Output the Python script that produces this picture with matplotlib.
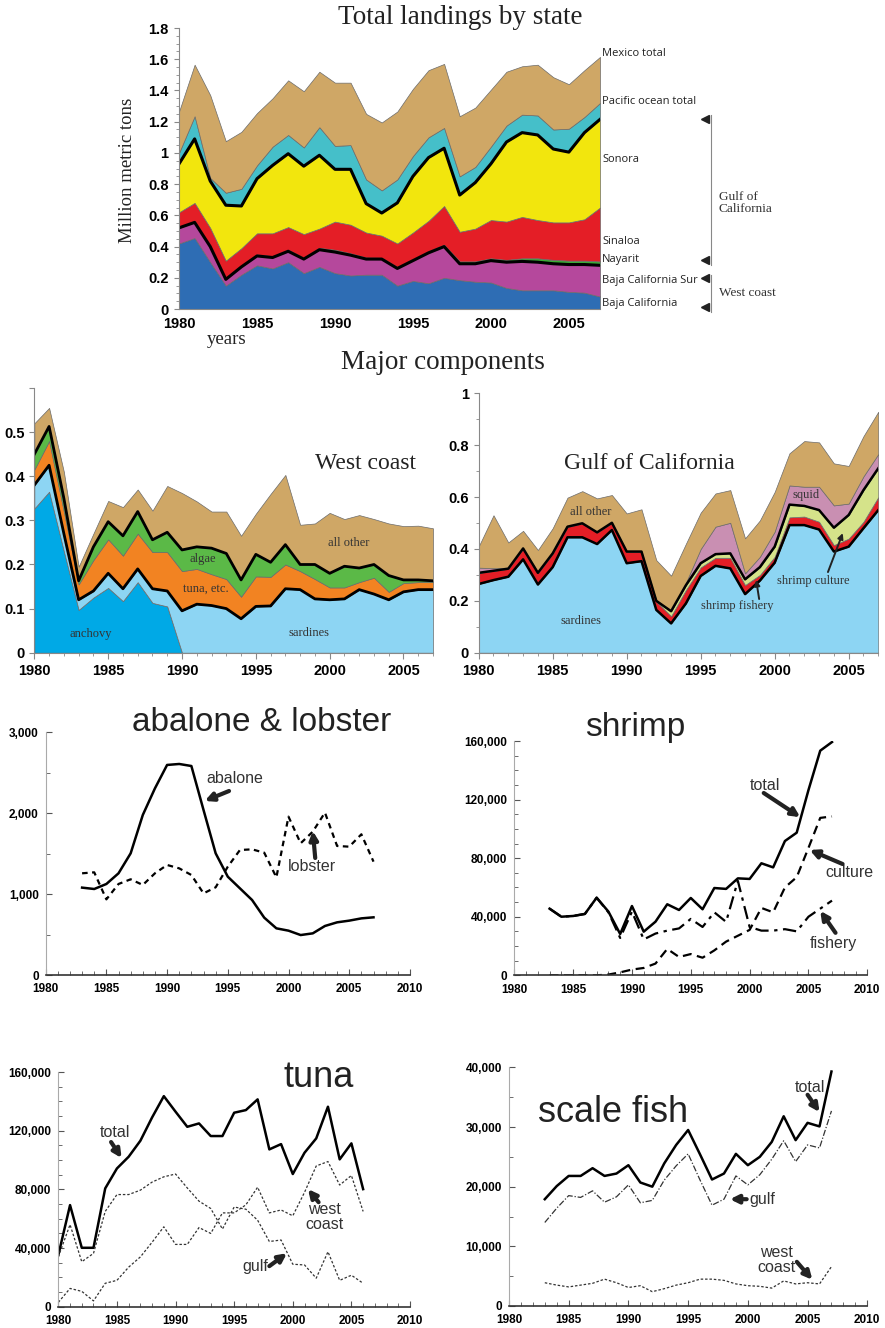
import numpy as np
import matplotlib
matplotlib.use("Agg")
import matplotlib.pyplot as plt
from matplotlib.ticker import MultipleLocator, FuncFormatter

# ---------------- data ----------------
years = np.arange(1980, 2008)

# Total landings by state: top edge of each stacked band, million t
baja_cal_top = [0.42, 0.455, 0.30, 0.15, 0.22, 0.28, 0.26, 0.30, 0.23, 0.27, 0.23, 0.215, 0.22, 0.22,
                0.15, 0.18, 0.165, 0.20, 0.185, 0.175, 0.17, 0.135, 0.12, 0.12, 0.12, 0.11, 0.105, 0.08]
west_coast_top = [0.52, 0.555, 0.40, 0.19, 0.27, 0.34, 0.33, 0.37, 0.32, 0.38, 0.365, 0.345, 0.32, 0.32,
                  0.26, 0.31, 0.36, 0.40, 0.29, 0.29, 0.31, 0.30, 0.305, 0.30, 0.29, 0.285, 0.285, 0.28]
nayarit_top = [0.528, 0.563, 0.406, 0.194, 0.276, 0.35, 0.338, 0.38, 0.328, 0.392, 0.38, 0.357, 0.33, 0.328,
               0.27, 0.32, 0.37, 0.412, 0.305, 0.305, 0.325, 0.315, 0.325, 0.325, 0.315, 0.31, 0.31, 0.305]
sinaloa_top = [0.62, 0.68, 0.52, 0.31, 0.39, 0.485, 0.485, 0.525, 0.48, 0.515, 0.56, 0.54, 0.49, 0.47,
               0.42, 0.49, 0.565, 0.66, 0.495, 0.515, 0.57, 0.56, 0.59, 0.57, 0.555, 0.555, 0.575, 0.65]
sonora_top = [0.93, 1.09, 0.82, 0.665, 0.66, 0.835, 0.92, 0.995, 0.915, 0.985, 0.895, 0.895, 0.675, 0.615,
              0.68, 0.85, 0.97, 1.03, 0.73, 0.81, 0.93, 1.07, 1.13, 1.115, 1.025, 1.005, 1.13, 1.215]
pacific_top = [1.0, 1.235, 0.84, 0.745, 0.77, 0.92, 1.04, 1.115, 1.035, 1.165, 1.045, 1.05, 0.83, 0.76,
               0.83, 0.98, 1.1, 1.16, 0.85, 0.91, 1.04, 1.175, 1.245, 1.24, 1.15, 1.155, 1.23, 1.32]
mexico_top = [1.265, 1.565, 1.37, 1.075, 1.135, 1.255, 1.35, 1.465, 1.395, 1.52, 1.45, 1.45, 1.25, 1.195,
              1.265, 1.41, 1.53, 1.57, 1.235, 1.29, 1.405, 1.52, 1.555, 1.565, 1.485, 1.44, 1.53, 1.615]

# West coast components (stack tops)
wc_anchovy = [0.327, 0.365, 0.23, 0.097, 0.125, 0.147, 0.117, 0.16, 0.113, 0.105] + [0.0] * 18
wc_sardine_top = [0.38, 0.425, 0.27, 0.12, 0.14, 0.18, 0.145, 0.19, 0.145, 0.14, 0.095, 0.11, 0.107, 0.10,
                  0.077, 0.105, 0.106, 0.145, 0.143, 0.122, 0.12, 0.122, 0.143, 0.133, 0.12, 0.138, 0.143, 0.143]
wc_tuna_top = [0.415, 0.48, 0.32, 0.155, 0.21, 0.257, 0.22, 0.27, 0.228, 0.228, 0.185, 0.19, 0.178, 0.167,
               0.127, 0.173, 0.172, 0.20, 0.185, 0.167, 0.148, 0.148, 0.16, 0.17, 0.138, 0.158, 0.16, 0.16]
wc_algae_top = [0.45, 0.513, 0.35, 0.163, 0.24, 0.297, 0.265, 0.32, 0.256, 0.273, 0.233, 0.24, 0.237, 0.225,
                0.165, 0.223, 0.205, 0.245, 0.2, 0.2, 0.18, 0.196, 0.192, 0.2, 0.175, 0.165, 0.165, 0.163]
wc_total = [0.52, 0.555, 0.41, 0.195, 0.27, 0.344, 0.33, 0.37, 0.322, 0.378, 0.362, 0.343, 0.32, 0.32,
            0.265, 0.315, 0.36, 0.403, 0.29, 0.293, 0.317, 0.303, 0.312, 0.303, 0.293, 0.287, 0.288, 0.282]

# Gulf of California components (stack tops)
gc_sardine = [0.265, 0.28, 0.293, 0.36, 0.263, 0.33, 0.445, 0.445, 0.419, 0.473, 0.345, 0.353, 0.165, 0.113,
              0.19, 0.296, 0.335, 0.325, 0.226, 0.278, 0.347, 0.492, 0.492, 0.475, 0.39, 0.409, 0.48, 0.55]
gc_fishery_top = [0.308, 0.316, 0.324, 0.402, 0.308, 0.383, 0.486, 0.499, 0.464, 0.501, 0.389, 0.389, 0.197, 0.141,
                  0.242, 0.329, 0.366, 0.366, 0.261, 0.3, 0.37, 0.522, 0.525, 0.505, 0.415, 0.44, 0.505, 0.6]
gc_culture_top = [0.308, 0.316, 0.324, 0.402, 0.308, 0.383, 0.486, 0.499, 0.464, 0.501, 0.39, 0.39, 0.2, 0.16,
                  0.26, 0.345, 0.38, 0.383, 0.283, 0.33, 0.409, 0.571, 0.566, 0.55, 0.482, 0.531, 0.627, 0.711]
gc_squid_top = [0.328, 0.326, 0.328, 0.405, 0.31, 0.385, 0.488, 0.5, 0.466, 0.503, 0.392, 0.392, 0.202, 0.162,
                0.27, 0.40, 0.486, 0.501, 0.306, 0.37, 0.467, 0.645, 0.64, 0.64, 0.568, 0.575, 0.68, 0.766]
gc_total = [0.41, 0.53, 0.425, 0.47, 0.396, 0.48, 0.598, 0.623, 0.595, 0.608, 0.537, 0.553, 0.357, 0.297,
            0.42, 0.54, 0.614, 0.627, 0.441, 0.51, 0.62, 0.769, 0.816, 0.811, 0.73, 0.72, 0.835, 0.929]

# single species, tons
yrs83 = np.arange(1983, 2008)
abalone = [1080, 1063, 1125, 1257, 1504, 1978, 2307, 2596, 2608, 2583, 2040, 1504, 1215, 1071, 927, 709,
           577, 548, 494, 515, 606, 651, 672, 700, 713]
lobster = [1257, 1269, 935, 1125, 1183, 1113, 1257, 1360, 1318, 1236, 1009, 1084, 1339, 1545, 1553, 1512,
           1207, 1957, 1628, 1772, 2007, 1595, 1586, 1739, 1401]

shrimp_total = [45500, 40000, 40500, 41900, 53000, 43500, 28200, 47300, 29800, 36600, 48500, 44600, 52800,
                45100, 59600, 59000, 66200, 65800, 76500, 73700, 91700, 97400, 126500, 153400, 159300]
shrimp_culture = [0, 0, 0, 0, 0, 500, 2000, 3900, 5000, 8000, 18000, 12500, 14500, 12000, 17000, 23000,
                  27000, 31000, 46000, 43000, 60000, 67000, 87000, 107500, 108500]
shrimp_fishery = [45500, 40000, 40500, 41900, 53000, 43000, 25500, 43500, 24500, 28500, 30500, 32000, 38500,
                  33000, 43000, 36500, 64500, 33000, 30500, 30500, 31500, 30000, 40000, 45500, 51000]

yrs_tuna = np.arange(1980, 2007)
tuna_total = [35200, 69300, 40200, 40200, 80700, 94300, 102300, 113200, 129100, 143600, 133000, 122700, 125000,
              116400, 116400, 132300, 134100, 141400, 107300, 110900, 90500, 105000, 114800, 136400, 100500,
              111400, 80200]
tuna_gulf = [34100, 56000, 30700, 36400, 65000, 76500, 76500, 79500, 85000, 88600, 90500, 81000, 72000, 67000,
             53000, 68000, 66500, 59000, 44500, 45500, 29000, 28500, 19500, 37500, 18000, 21500, 16000]
tuna_west = [3000, 12500, 10500, 4000, 16000, 18000, 27000, 34000, 44000, 54500, 42500, 42500, 54000, 50000,
             64000, 64000, 69500, 81500, 64000, 66000, 62000, 78000, 96000, 99000, 83000, 89500, 65000]

fish_total = [17900, 20100, 21800, 21800, 23100, 21800, 22200, 23600, 20700, 20000, 23900, 27000, 29500,
              25400, 21200, 22200, 25500, 23600, 25000, 27500, 31800, 27800, 30700, 30100, 39300]
fish_gulf = [14000, 16400, 18500, 18200, 19300, 17400, 18300, 20300, 17300, 17700, 21100, 23500, 25500,
             21100, 16900, 17900, 21800, 20300, 22000, 24600, 27700, 24200, 27000, 26500, 32700]
fish_west = [3900, 3500, 3200, 3500, 3800, 4500, 3900, 3100, 3400, 2400, 2900, 3500, 3900, 4500, 4500,
             4300, 3700, 3400, 3300, 3000, 4200, 3700, 3900, 3700, 6600]

# ---------------- styles ----------------
SERIF = "Liberation Serif"
SANS = "Liberation Sans"
TAN = "#CFA766"
EDGE = "#6b6b6b"

fig = plt.figure(figsize=(8.85, 13.28), dpi=100)


def stack_fill(ax, lower, upper, color):
    ax.fill_between(years, lower, upper, facecolor=color, edgecolor=EDGE, lw=0.5)


def bold_ticks(ax, size):
    for lab in ax.get_xticklabels() + ax.get_yticklabels():
        lab.set_fontweight("bold")
        lab.set_fontfamily(SANS)
        lab.set_fontsize(size)


def arrow(ax, tip, tail, lw=3.0, ms=12):
    ax.annotate("", xy=tip, xytext=tail,
                arrowprops=dict(arrowstyle="-|>", color="#222222", lw=lw, mutation_scale=ms,
                                shrinkA=0, shrinkB=0))


# ---------------- top: total landings by state ----------------
ax = fig.add_axes([0.2023, 0.7673, 0.4757, 0.2116])
zero = np.zeros(len(years))
stack_fill(ax, zero, baja_cal_top, "#2E6DB4")
stack_fill(ax, baja_cal_top, west_coast_top, "#B5489C")
stack_fill(ax, west_coast_top, nayarit_top, "#3BAA35")
stack_fill(ax, nayarit_top, sinaloa_top, "#E41E26")
stack_fill(ax, sinaloa_top, sonora_top, "#F2E60D")
stack_fill(ax, sonora_top, pacific_top, "#45BFC9")
stack_fill(ax, pacific_top, mexico_top, TAN)
ax.plot(years, west_coast_top, color="black", lw=2.2)
ax.plot(years, sonora_top, color="black", lw=2.2)
ax.set_xlim(1980, 2007)
ax.set_ylim(0, 1.8)
ax.set_xticks(range(1980, 2006, 5))
ax.yaxis.set_major_locator(MultipleLocator(0.2))
ax.yaxis.set_minor_locator(MultipleLocator(0.05))
ax.yaxis.set_major_formatter(FuncFormatter(lambda v, p: "%g" % round(v, 2)))
ax.tick_params(axis="x", length=0, pad=6)
ax.tick_params(axis="y", which="both", color="#888888")
ax.tick_params(axis="y", pad=4)
for s in ["top", "right"]:
    ax.spines[s].set_visible(False)
ax.spines["left"].set_color("#888888")
ax.spines["bottom"].set_color("#888888")
bold_ticks(ax, 10.5)

labels = [("Mexico total", 1.636), ("Pacific ocean total", 1.328), ("Sonora", 0.956),
          ("Sinaloa", 0.431), ("Nayarit", 0.316), ("Baja California Sur", 0.181),
          ("Baja California", 0.034)]
for txt, yv in labels:
    ax.text(2007.15, yv, txt, fontsize=8, family="Open Sans", color="#222222",
            va="center", ha="left", clip_on=False)
# brackets
bx = 2014.12
ax.plot([bx, bx], [1.245, 0.284], color="#888888", lw=0.8, clip_on=False)
ax.plot([bx, bx], [0.22, -0.017], color="#888888", lw=0.8, clip_on=False)
ax.plot([2013.75] * 4, [1.218, 0.316, 0.2, 0.015], linestyle="none", marker="<",
        color="#222222", markersize=6, clip_on=False)
ax.text(2014.6, 0.68, "Gulf of\nCalifornia", family=SERIF, fontsize=9.5, color="#333333",
        va="center", ha="left", linespacing=1.0)
ax.text(2014.6, 0.104, "West coast", family=SERIF, fontsize=9.5, color="#333333",
        va="center", ha="left")

fig.text(0.52, 0.987, "Total landings by state", family=SERIF, fontsize=19.5,
         ha="center", va="center", color="#222222")
fig.text(0.1446, 0.872, "Million metric tons", family=SERIF, fontsize=13.5,
         rotation=90, ha="center", va="center", color="#222222")
fig.text(0.2565, 0.744, "years", family=SERIF, fontsize=13.5, ha="center", va="center",
         color="#222222")
fig.text(0.5006, 0.7274, "Major components", family=SERIF, fontsize=19.5,
         ha="center", va="center", color="#222222")


def stack_axes(rect, ymax, major, minor):
    a = fig.add_axes(rect)
    a.set_xlim(1980, 2007)
    a.set_ylim(0, ymax)
    a.set_xticks(range(1980, 2006, 5))
    a.xaxis.set_minor_locator(MultipleLocator(1))
    a.yaxis.set_major_locator(MultipleLocator(major))
    if minor:
        a.yaxis.set_minor_locator(MultipleLocator(minor))
    a.tick_params(which="both", color="#888888")
    a.tick_params(axis="x", which="major", length=4, pad=4)
    a.tick_params(axis="x", which="minor", length=2.5)
    for s in ["top", "right"]:
        a.spines[s].set_visible(False)
    a.spines["left"].set_color("#888888")
    a.spines["bottom"].set_color("#888888")
    return a


# ---------------- middle left: west coast ----------------
ax = stack_axes([0.0388, 0.5085, 0.4505, 0.1993], 0.6, 0.1, None)
stack_fill(ax, zero, wc_anchovy, "#00A9E6")
stack_fill(ax, wc_anchovy, wc_sardine_top, "#8DD5F3")
stack_fill(ax, wc_sardine_top, wc_tuna_top, "#F28322")
stack_fill(ax, wc_tuna_top, wc_algae_top, "#5BB947")
stack_fill(ax, wc_algae_top, wc_total, TAN)
ax.plot(years, wc_sardine_top, color="black", lw=2)
ax.plot(years, wc_algae_top, color="black", lw=2)
ax.yaxis.set_major_formatter(FuncFormatter(lambda v, p: "" if v > 0.55 else "%g" % round(v, 2)))
bold_ticks(ax, 10.5)
ax.text(2002.4, 0.43, "West coast", family=SERIF, fontsize=17, ha="center", va="center", color="#222222")
for txt, xv, yv in [("all other", 2001.3, 0.249), ("algae", 1991.4, 0.212), ("tuna, etc.", 1991.6, 0.144),
                    ("anchovy", 1983.8, 0.042), ("sardines", 1998.6, 0.045)]:
    ax.text(xv, yv, txt, family=SERIF, fontsize=9, ha="center", va="center", color="#333333")

# ---------------- middle right: gulf of california ----------------
ax = stack_axes([0.5409, 0.5085, 0.4515, 0.1953], 1.0, 0.2, 0.1)
stack_fill(ax, zero, gc_sardine, "#8DD5F3")
stack_fill(ax, gc_sardine, gc_fishery_top, "#E41E26")
stack_fill(ax, gc_fishery_top, gc_culture_top, "#D5E38A")
stack_fill(ax, gc_culture_top, gc_squid_top, "#C98FB2")
stack_fill(ax, gc_squid_top, gc_total, TAN)
ax.plot(years, gc_sardine, color="black", lw=1.8)
ax.plot(years, gc_culture_top, color="black", lw=1.8)
ax.yaxis.set_major_formatter(FuncFormatter(lambda v, p: "%g" % round(v, 2)))
bold_ticks(ax, 10.5)
ax.text(1991.5, 0.731, "Gulf of California", family=SERIF, fontsize=17, ha="center", va="center",
        color="#222222")
for txt, xv, yv in [("all other", 1987.6, 0.542), ("squid", 2002.1, 0.608), ("sardines", 1986.9, 0.121),
                    ("shrimp fishery", 1997.5, 0.18), ("shrimp culture", 2002.6, 0.276)]:
    ax.text(xv, yv, txt, family=SERIF, fontsize=9, ha="center", va="center", color="#333333")
arrow(ax, (1998.75, 0.28), (1998.95, 0.207), lw=1.4, ms=8)
arrow(ax, (2004.6, 0.461), (2003.6, 0.311), lw=1.4, ms=8)


# ---------------- line charts ----------------
def line_axes(rect, ymax, major, minor):
    a = fig.add_axes(rect)
    a.set_xlim(1980, 2010)
    a.set_ylim(0, ymax)
    a.set_xticks(range(1980, 2011, 5))
    a.xaxis.set_minor_locator(MultipleLocator(1))
    a.yaxis.set_major_locator(MultipleLocator(major))
    a.yaxis.set_minor_locator(MultipleLocator(minor))
    a.yaxis.set_major_formatter(FuncFormatter(lambda v, p: "{:,.0f}".format(v)))
    a.tick_params(which="both", direction="in", color="#555555")
    a.tick_params(which="major", length=4)
    a.tick_params(which="minor", length=3)
    a.tick_params(axis="x", pad=6)
    a.tick_params(axis="y", pad=5)
    for s in ["top", "right"]:
        a.spines[s].set_visible(False)
    a.spines["left"].set_color("#aaaaaa")
    a.spines["bottom"].set_color("#333333")
    a.spines["bottom"].set_linewidth(1.2)
    bold_ticks(a, 8.5)
    return a


def label(ax, x, y, txt, size=11.5):
    ax.text(x, y, txt, family=SANS, fontsize=size, ha="center", va="center", color="#333333",
            linespacing=1.0)


# abalone & lobster
ax = line_axes([0.0516, 0.2658, 0.4116, 0.1828], 3000, 1000, 500)
ax.plot(yrs83, abalone, color="black", lw=1.8)
ax.plot(yrs83, lobster, color="black", lw=1.6, linestyle=(0, (2.5, 2)))
ax.text(1997.8, 3115, "abalone & lobster", family=SANS, fontsize=24, ha="center", va="center",
        color="#222222", clip_on=False)
label(ax, 1995.6, 2423, "abalone")
arrow(ax, (1993.1, 2151), (1995.1, 2274))
label(ax, 2001.9, 1347, "lobster")
arrow(ax, (2002.0, 1780), (2002.2, 1446))

# shrimp
ax = line_axes([0.5811, 0.2656, 0.3989, 0.1764], 160000, 40000, 10000)
ax.plot(yrs83, shrimp_total, color="black", lw=1.8)
ax.plot(yrs83, shrimp_culture, color="black", lw=1.6, linestyle=(0, (4, 2.5)))
ax.plot(yrs83, shrimp_fishery, color="black", lw=1.6, linestyle=(0, (6, 2.5, 1.5, 2.5)))
ax.text(1990.25, 169500, "shrimp", family=SANS, fontsize=24, ha="center", va="center",
        color="#222222", clip_on=False)
label(ax, 2001.3, 129300, "total")
arrow(ax, (2004.3, 108000), (2001.2, 124500))
label(ax, 2008.5, 69900, "culture")
arrow(ax, (2005.1, 85600), (2007.9, 76000))
label(ax, 2007.1, 21400, "fishery")
arrow(ax, (2006.0, 44000), (2007.3, 29000))

# tuna
ax = line_axes([0.0659, 0.0160, 0.3974, 0.1767], 160000, 40000, 10000)
ax.plot(yrs_tuna, tuna_total, color="black", lw=1.8)
ax.plot(yrs_tuna, tuna_gulf, color="#333333", lw=0.9, linestyle=(0, (2, 1.5)))
ax.plot(yrs_tuna, tuna_west, color="#333333", lw=0.9, linestyle=(0, (2, 1.5)))
ax.text(2002.2, 156600, "tuna", family=SANS, fontsize=26, ha="center", va="center", color="#222222")
label(ax, 1984.8, 119100, "total")
arrow(ax, (1985.4, 101400), (1984.5, 112300))
label(ax, 2002.7, 61000, "west\ncoast")
arrow(ax, (2001.3, 80200), (2002.2, 71300))
label(ax, 1996.8, 27700, "gulf")
arrow(ax, (1999.5, 36500), (1998.0, 27700))

# scale fish
ax = line_axes([0.5751, 0.01657, 0.4049, 0.1797], 40000, 10000, 5000)
ax.plot(yrs83, fish_total, color="black", lw=1.8)
ax.plot(yrs83, fish_gulf, color="#333333", lw=0.9, linestyle=(0, (5, 1.5, 1, 1.5)))
ax.plot(yrs83, fish_west, color="#333333", lw=0.9, linestyle=(0, (2, 1.5)))
ax.text(1988.7, 32500, "scale fish", family=SANS, fontsize=26, ha="center", va="center", color="#222222")
label(ax, 2005.2, 36700, "total")
arrow(ax, (2006.0, 32500), (2005.0, 35400))
ax.text(2000.1, 17900, "gulf", family=SANS, fontsize=11.5, ha="left", va="center", color="#333333")
arrow(ax, (1998.5, 17900), (1999.9, 17900))
label(ax, 2002.4, 7700, "west\ncoast")
arrow(ax, (2005.4, 4400), (2004.1, 7400))

fig.savefig("out.png", dpi=100)
